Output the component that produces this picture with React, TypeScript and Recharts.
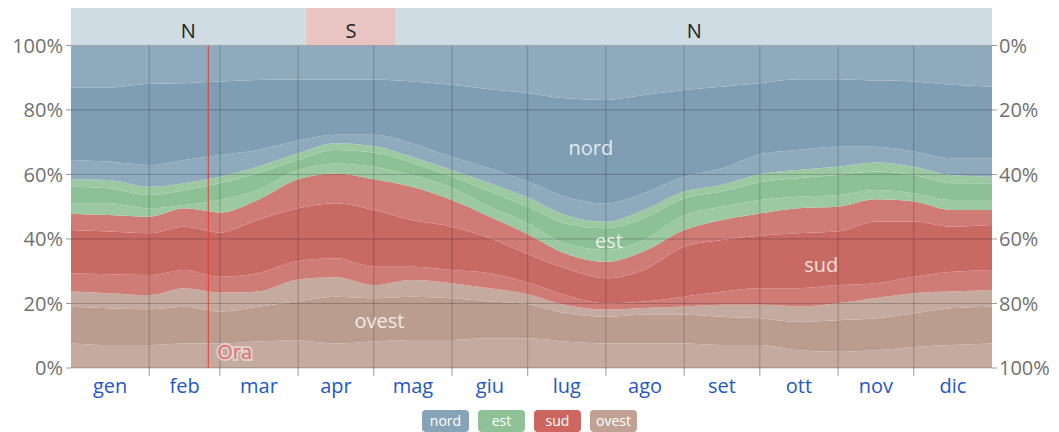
import { AreaChart, Area, XAxis, YAxis, ReferenceLine, ReferenceArea, ReferenceDot } from 'recharts';

// day of year for each reading
const days = [0, 15, 31, 45, 59, 74, 90, 105, 120, 135, 151, 166, 181, 196, 212, 227, 243, 258, 273, 288, 304, 319, 334, 349, 365];

// cumulative band tops (%), read from bottom to top
const ovestLow = [7.6, 7.1, 7.1, 7.6, 7.6, 8.2, 8.5, 7.6, 8.2, 8.7, 8.7, 9.2, 9.2, 8.2, 7.6, 7.6, 7.6, 7.1, 7.1, 5.5, 5.0, 5.5, 6.5, 7.1, 7.6];
const ovestMid = [19.0, 18.5, 18.2, 19.0, 17.5, 19.0, 20.7, 22.1, 21.6, 22.1, 21.6, 20.6, 19.8, 17.0, 15.9, 16.5, 16.5, 15.9, 15.4, 14.3, 14.8, 15.4, 16.9, 18.5, 19.0];
const ovestTop = [23.7, 23.2, 22.6, 24.7, 23.4, 23.7, 27.4, 28.1, 25.7, 27.3, 26.3, 24.7, 22.9, 19.5, 18.1, 18.6, 19.1, 19.6, 19.6, 19.1, 20.1, 21.7, 23.2, 23.7, 24.2];
const sudLow = [29.4, 29.1, 28.8, 30.4, 28.3, 29.4, 33.2, 34.0, 31.4, 31.4, 30.4, 29.4, 26.5, 22.6, 20.0, 20.6, 22.1, 23.7, 24.7, 24.7, 25.7, 26.3, 28.3, 29.8, 30.4];
const sudMid = [42.8, 42.3, 41.8, 43.8, 42.0, 45.9, 49.5, 51.1, 49.0, 45.9, 43.8, 40.2, 35.3, 30.9, 27.8, 30.4, 37.6, 39.7, 41.0, 41.8, 42.3, 45.4, 45.4, 43.8, 44.3];
const sudTop = [47.8, 47.4, 46.9, 49.5, 48.2, 52.1, 58.5, 60.3, 58.5, 56.2, 52.1, 46.9, 41.5, 35.5, 32.9, 36.2, 42.8, 45.9, 47.9, 49.5, 50.0, 52.3, 51.6, 49.0, 49.0];
const estLow = [51.1, 51.1, 49.5, 50.5, 52.1, 55.2, 61.4, 63.4, 62.4, 59.8, 55.8, 50.0, 44.9, 38.6, 36.6, 39.7, 47.4, 50.0, 52.1, 53.1, 53.6, 55.2, 54.2, 52.1, 52.1];
const estMid = [56.2, 55.7, 53.6, 55.2, 57.3, 60.4, 64.5, 67.6, 66.8, 63.7, 59.3, 54.7, 50.0, 44.8, 43.3, 46.4, 52.6, 54.7, 57.6, 58.8, 59.8, 60.9, 59.8, 57.3, 57.3];
const estTop = [58.5, 58.3, 56.2, 57.3, 59.3, 62.4, 66.6, 69.7, 68.8, 65.5, 61.4, 57.3, 52.9, 47.4, 45.3, 49.0, 54.7, 56.8, 60.1, 61.4, 62.4, 63.7, 62.4, 59.8, 59.3];
const nordLow = [64.5, 64.0, 62.9, 64.5, 66.0, 67.6, 70.5, 72.3, 72.3, 69.7, 65.5, 61.9, 57.8, 53.1, 51.0, 54.2, 59.3, 61.9, 66.3, 67.6, 68.6, 68.6, 67.1, 65.0, 65.0];
const nordMid = [86.9, 86.9, 88.1, 88.3, 88.8, 89.3, 89.4, 89.4, 89.4, 88.8, 87.8, 86.4, 85.2, 83.6, 83.1, 84.6, 86.2, 87.2, 88.3, 89.5, 89.5, 89.1, 88.8, 87.8, 87.2];

const monthNames = ['gen', 'feb', 'mar', 'apr', 'mag', 'giu', 'lug', 'ago', 'set', 'ott', 'nov', 'dic'];
const monthStarts = [31, 59, 90, 120, 151, 181, 212, 243, 273, 304, 334];
const monthMids = [15.5, 45, 74.5, 105, 135.5, 166, 196.5, 227.5, 258, 288.5, 319, 349.5];
const pctTicks = [0, 20, 40, 60, 80, 100];

// prevailing direction strip on top
const stripFrom = [0, 93, 129];
const stripTo = [93, 129, 365];
const stripLabel = ['N', 'S', 'N'];
const stripFill = ['#d0dce3', '#e8c5c3', '#d0dce3'];

const nowDay = 54.4;
const STRIP = 11.6; // height of the top strip, in % units

const bounds = [ovestLow, ovestMid, ovestTop, sudLow, sudMid, sudTop, estLow, estMid, estTop, nordLow, nordMid];
const bandKeys = ['o1', 'o2', 'o3', 's1', 's2', 's3', 'e1', 'e2', 'e3', 'n1', 'n2', 'n3'];
const bandColors = ['#c4aa9f', '#bb9d90', '#c4aa9f', '#d07c76', '#c86a63', '#d07c76', '#9cc9a2', '#8dc094', '#9cc9a2', '#8faabd', '#7f9db3', '#8faabd'];

const data = days.map((d, i) => {
  const row: any = { day: d };
  let prev = 0;
  bandKeys.forEach((k, j) => {
    const top = j < bounds.length ? bounds[j][i] : 100;
    row[k] = +(top - prev).toFixed(2);
    prev = top;
  });
  return row;
});

const legendItems = [
  { name: 'nord', color: '#87a3b8' },
  { name: 'est', color: '#8fc196' },
  { name: 'sud', color: '#cd6560' },
  { name: 'ovest', color: '#c0a193' },
];

const MonthTick = (props: any) => {
  const { x, y, payload } = props;
  const i = monthMids.indexOf(payload.value);
  if (i >= 0) {
    return (
      <text x={x} y={y} dy="0.71em" textAnchor="middle" fill="#2457c5" fontSize={20}>
        {monthNames[i]}
      </text>
    );
  }
  return <line x1={x} x2={x} y1={y - 11} y2={y - 3} stroke="#999" />;
};

const areaLabel = (value: string) => ({ value, position: 'center' as const, fill: '#fff', fillOpacity: 0.8, fontSize: 20 });

export default function App() {
  const xTicks = [...monthStarts, ...monthMids].sort((a, b) => a - b);
  return (
    <div style={{ position: 'absolute', left: 0, top: 0, width: 1059, height: 432, fontFamily: '"Open Sans", sans-serif', background: '#fff' }}>
      <AreaChart width={1059} height={432} data={data} margin={{ top: 8, right: 0, bottom: 34, left: 0 }}>
        <XAxis
          dataKey="day"
          type="number"
          domain={[0, 365]}
          ticks={xTicks}
          interval={0}
          tick={<MonthTick />}
          tickLine={false}
          axisLine={false}
          tickSize={8}
          tickMargin={3}
          height={30}
        />
        <YAxis
          yAxisId="left"
          type="number"
          domain={[0, 100 + STRIP]}
          ticks={pctTicks}
          tickFormatter={(v: number) => `${v}%`}
          axisLine={false}
          tickLine={{ stroke: '#999' }}
          tickSize={5}
          tickMargin={3}
          tick={{ fill: '#707070', fontSize: 20 }}
          width={71}
        />
        <YAxis
          yAxisId="right"
          orientation="right"
          type="number"
          reversed
          allowDataOverflow
          domain={[-STRIP, 100]}
          ticks={pctTicks}
          tickFormatter={(v: number) => `${v}%`}
          axisLine={false}
          tickLine={{ stroke: '#999' }}
          tickSize={5}
          tickMargin={2}
          tick={{ fill: '#707070', fontSize: 20 }}
          width={67}
        />
        {bandKeys.map((k, j) => (
          <Area
            key={k}
            yAxisId="left"
            dataKey={k}
            stackId="wind"
            type="monotone"
            stroke="none"
            fill={bandColors[j]}
            fillOpacity={1}
            isAnimationActive={false}
          />
        ))}
        {stripLabel.map((lab, i) => (
          <ReferenceArea
            key={'strip' + i}
            yAxisId="left"
            x1={stripFrom[i]}
            x2={stripTo[i]}
            y1={100}
            y2={100 + STRIP}
            fill={stripFill[i]}
            fillOpacity={1}
            stroke="none"
            label={{ value: lab, position: 'insideBottom', offset: 7, fill: '#222', fontSize: 20 }}
          />
        ))}
        {pctTicks.map((t) => (
          <ReferenceLine key={'h' + t} yAxisId="left" y={t} stroke="#000" strokeOpacity={0.22} />
        ))}
        {pctTicks.map((t) => (
          <ReferenceLine key={'r' + t} yAxisId="right" y={t} stroke="none" ifOverflow="extendDomain" />
        ))}
        {monthStarts.map((m) => (
          <ReferenceLine
            key={'v' + m}
            yAxisId="left"
            segment={[{ x: m, y: 0 }, { x: m, y: 100 }]}
            stroke="#000"
            strokeOpacity={0.22}
          />
        ))}
        <ReferenceLine
          yAxisId="left"
          segment={[{ x: nowDay, y: 0 }, { x: nowDay, y: 100 }]}
          stroke="#e53935"
          label={{
            value: 'Ora',
            position: 'insideBottomLeft',
            offset: 9,
            fill: '#e36a6a',
            fontSize: 20,
            stroke: 'rgba(255,255,255,0.45)',
            strokeWidth: 4,
            paintOrder: 'stroke',
          }}
        />
        <ReferenceDot yAxisId="left" x={206} y={68.2} r={0} fill="none" stroke="none" label={areaLabel('nord')} />
        <ReferenceDot yAxisId="left" x={213.2} y={39.4} r={0} fill="none" stroke="none" label={areaLabel('est')} />
        <ReferenceDot yAxisId="left" x={297.3} y={32.0} r={0} fill="none" stroke="none" label={areaLabel('sud')} />
        <ReferenceDot yAxisId="left" x={122.2} y={14.5} r={0} fill="none" stroke="none" label={areaLabel('ovest')} />
      </AreaChart>
      <div style={{ position: 'absolute', top: 410, left: 422, display: 'flex', gap: 9 }}>
        {legendItems.map((it) => (
          <div
            key={it.name}
            style={{
              width: 47,
              height: 22,
              lineHeight: '22px',
              borderRadius: 4,
              background: it.color,
              color: '#fff',
              fontSize: 14,
              textAlign: 'center',
            }}
          >
            {it.name}
          </div>
        ))}
      </div>
    </div>
  );
}
